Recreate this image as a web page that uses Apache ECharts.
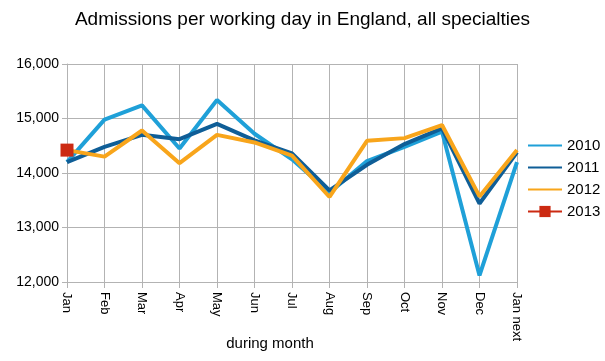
<!DOCTYPE html>
<html>
<head>
<meta charset="utf-8">
<script src="https://cdn.jsdelivr.net/npm/echarts@6/dist/echarts.min.js"></script>
<style>html,body{margin:0;padding:0;background:#fff;}#c{width:605px;height:361px;}</style>
</head>
<body>
<div id="c"></div>
<script>
var categories = ['Jan','Feb','Mar','Apr','May','Jun','Jul','Aug','Sep','Oct','Nov','Dec','Jan next'];
var s2010 = [14200, 14980, 15240, 14450, 15340, 14720, 14250, 13640, 14220, 14480, 14760, 12120, 14200];
var s2011 = [14200, 14480, 14700, 14620, 14900, 14600, 14360, 13680, 14150, 14530, 14820, 13440, 14380];
var s2012 = [14420, 14300, 14780, 14180, 14700, 14560, 14320, 13560, 14590, 14640, 14880, 13570, 14420];
var s2013 = [14420];
var seriesNames = ['2010','2011','2012','2013'];

var chart = echarts.init(document.getElementById('c'));
var font = 'Liberation Sans, Arial, Helvetica, sans-serif';
function line(name, data, color, sym) {
  return {
    name: name, type: 'line', data: data,
    symbol: sym || 'none', symbolSize: 13, showSymbol: !!sym,
    lineStyle: { color: color, width: 4 },
    itemStyle: { color: color },
    animation: false
  };
}
chart.setOption({
  animation: false,
  title: {
    text: 'Admissions per working day in England, all specialties',
    left: 'center', top: 5,
    textStyle: { fontFamily: font, fontSize: 19, fontWeight: 'normal', color: '#000' }
  },
  grid: { left: 67, right: 88, top: 64, bottom: 79, containLabel: false, outerBoundsMode: 'none' },
  legend: {
    orient: 'vertical', left: 522, top: 133,
    itemWidth: 34, itemHeight: 14, itemGap: 7,
    textStyle: { fontFamily: font, fontSize: 15, color: '#000' },
    data: [
      { name: seriesNames[0], itemStyle: { opacity: 0 } },
      { name: seriesNames[1], itemStyle: { opacity: 0 } },
      { name: seriesNames[2], itemStyle: { opacity: 0 } },
      { name: seriesNames[3] }
    ]
  },
  xAxis: {
    type: 'category', data: categories, boundaryGap: false,
    name: 'during month', nameLocation: 'middle', nameGap: 54, nameMoveOverlap: false,
    nameTextStyle: { fontFamily: font, fontSize: 15, color: '#000', padding: [0, 44, 0, 0] },
    axisLine: { lineStyle: { color: '#b3b3b3', width: 1 } },
    axisTick: { show: true, length: 6, lineStyle: { color: '#b3b3b3' } },
    axisLabel: { rotate: -90, fontFamily: font, fontSize: 13, color: '#000', margin: 10 },
    splitLine: { show: true, lineStyle: { color: '#b3b3b3' } }
  },
  yAxis: {
    type: 'value', min: 12000, max: 16000, interval: 1000,
    axisLine: { show: true, lineStyle: { color: '#b3b3b3', width: 1 } },
    axisTick: { show: true, length: 5, lineStyle: { color: '#b3b3b3' } },
    axisLabel: {
      fontFamily: font, fontSize: 14, color: '#000', margin: 8,
      formatter: function (v) { return v.toLocaleString('en-US'); }
    },
    splitLine: { lineStyle: { color: '#b3b3b3' } }
  },
  series: [
    line(seriesNames[0], s2010, '#1fa0d8'),
    line(seriesNames[1], s2011, '#0f5e97'),
    line(seriesNames[2], s2012, '#f8a51b'),
    line(seriesNames[3], s2013, '#cc2a12', 'rect')
  ]
});
</script>
</body>
</html>
